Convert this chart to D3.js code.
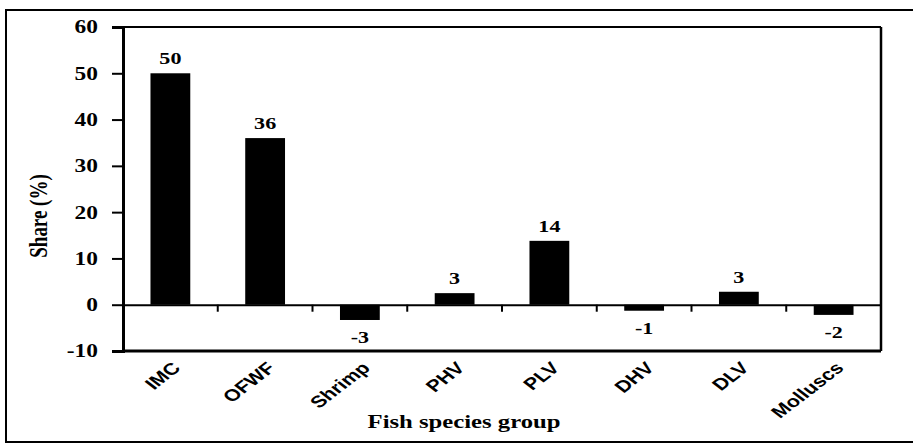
<!DOCTYPE html>
<html>
<head>
<meta charset="utf-8">
<script src="https://cdn.jsdelivr.net/npm/d3@7"></script>
<style>
  html, body { margin: 0; padding: 0; background: #fff; }
  svg { display: block; }
</style>
</head>
<body>
<svg id="chart" width="913" height="444"></svg>
<script>
// ---- data ----
const categories = ["IMC", "OFWF", "Shrimp", "PHV", "PLV", "DHV", "DLV", "Molluscs"];
const shareValues = [50, 36, -3.3, 2.5, 13.8, -1.3, 2.8, -2.2];
const valueLabels = ["50", "36", "-3", "3", "14", "-1", "3", "-2"];
const yTicks = [-10, 0, 10, 20, 30, 40, 50, 60];
const xTitle = "Fish species group";
const yTitle = "Share (%)";

// ---- layout ----
const svg = d3.select("#chart");
const plotLeft = 123, plotRight = 881, plotTop = 27, plotBottom = 351;
const SX = 1.3; // horizontal stretch of the scanned figure
const serif = "'Liberation Serif', 'Times New Roman', serif";
const sans = "'Liberation Sans', Arial, sans-serif";

// outer frame
svg.append("rect")
  .attr("x", 6).attr("y", 10).attr("width", 912).attr("height", 432)
  .attr("fill", "none").attr("stroke", "#000").attr("stroke-width", 2);

const x = d3.scaleBand().domain(categories).range([plotLeft, plotRight]).paddingInner(0.58).paddingOuter(0.29);
const xb = d3.scaleBand().domain(categories).range([plotLeft, plotRight]);
const y = d3.scaleLinear().domain([-10, 60]).range([plotBottom, plotTop]);

// plot box: top, right, bottom
svg.append("line").attr("x1", plotLeft).attr("x2", plotRight).attr("y1", y(60)).attr("y2", y(60))
  .attr("stroke", "#000").attr("stroke-width", 2);
svg.append("line").attr("x1", plotRight).attr("x2", plotRight).attr("y1", y(60)).attr("y2", y(-10))
  .attr("stroke", "#000").attr("stroke-width", 2.5);
svg.append("line").attr("x1", plotLeft).attr("x2", plotRight).attr("y1", y(-10)).attr("y2", y(-10))
  .attr("stroke", "#000").attr("stroke-width", 3);

// bars
svg.append("g").selectAll("rect").data(categories).join("rect")
  .attr("x", d => x(d))
  .attr("width", x.bandwidth())
  .attr("y", (d, i) => y(Math.max(0, shareValues[i])))
  .attr("height", (d, i) => Math.abs(y(shareValues[i]) - y(0)))
  .attr("fill", "#000");

// y axis
const yAxis = svg.append("g").attr("transform", `translate(${plotLeft},0)`)
  .call(d3.axisLeft(y).tickValues(yTicks).tickSize(11).tickPadding(0).tickFormat(d3.format("d")));
yAxis.select(".domain").attr("stroke-width", 3);
yAxis.selectAll(".tick line").attr("stroke-width", 2);
yAxis.selectAll(".tick text").remove();
yAxis.selectAll(".tick").append("text")
  .attr("transform", `translate(-25,0) scale(${SX},1)`)
  .attr("text-anchor", "end").attr("dy", "0.33em")
  .attr("fill", "#000")
  .style("font-family", serif).style("font-weight", "bold").style("font-size", "18px")
  .text(d => d);

// zero line with downward ticks between categories
const xAxis = svg.append("g").attr("transform", `translate(0,${y(0)})`)
  .call(d3.axisBottom(xb).tickSize(0).tickFormat(""));
xAxis.select(".domain").attr("stroke-width", 2);
svg.append("g").selectAll("line").data(categories.slice(1)).join("line")
  .attr("x1", d => xb(d)).attr("x2", d => xb(d))
  .attr("y1", y(0)).attr("y2", y(0) + 7)
  .attr("stroke", "#000").attr("stroke-width", 2);

// category labels
svg.append("g").selectAll("text").data(categories).join("text")
  .attr("transform", d => `translate(${xb(d) + xb.bandwidth() / 2 + 6},${y(-10) + 14}) scale(${SX},1) rotate(-45)`)
  .attr("text-anchor", "end").attr("dy", "0.35em")
  .attr("fill", "#000")
  .style("font-family", sans).style("font-weight", "bold").style("font-size", "16.5px")
  .text(d => d);

// value labels
svg.append("g").selectAll("text").data(categories).join("text")
  .attr("transform", (d, i) => {
    const v = shareValues[i];
    const cx = xb(d) + xb.bandwidth() / 2;
    const ty = v >= 0 ? y(v) - 9 : y(v) + 23;
    return `translate(${cx},${ty}) scale(${SX},1)`;
  })
  .attr("text-anchor", "middle")
  .attr("fill", "#000")
  .style("font-family", serif).style("font-weight", "bold").style("font-size", "17px")
  .text((d, i) => valueLabels[i]);

// axis titles
svg.append("text")
  .attr("transform", `translate(464,428) scale(${SX},1)`)
  .attr("text-anchor", "middle").attr("fill", "#000")
  .style("font-family", serif).style("font-weight", "bold").style("font-size", "19px")
  .text(xTitle);
svg.append("text")
  .attr("transform", `translate(47,216) scale(${SX},1) rotate(-90)`)
  .attr("text-anchor", "middle").attr("fill", "#000")
  .style("font-family", serif).style("font-weight", "bold").style("font-size", "19px")
  .text(yTitle);
</script>
</body>
</html>
